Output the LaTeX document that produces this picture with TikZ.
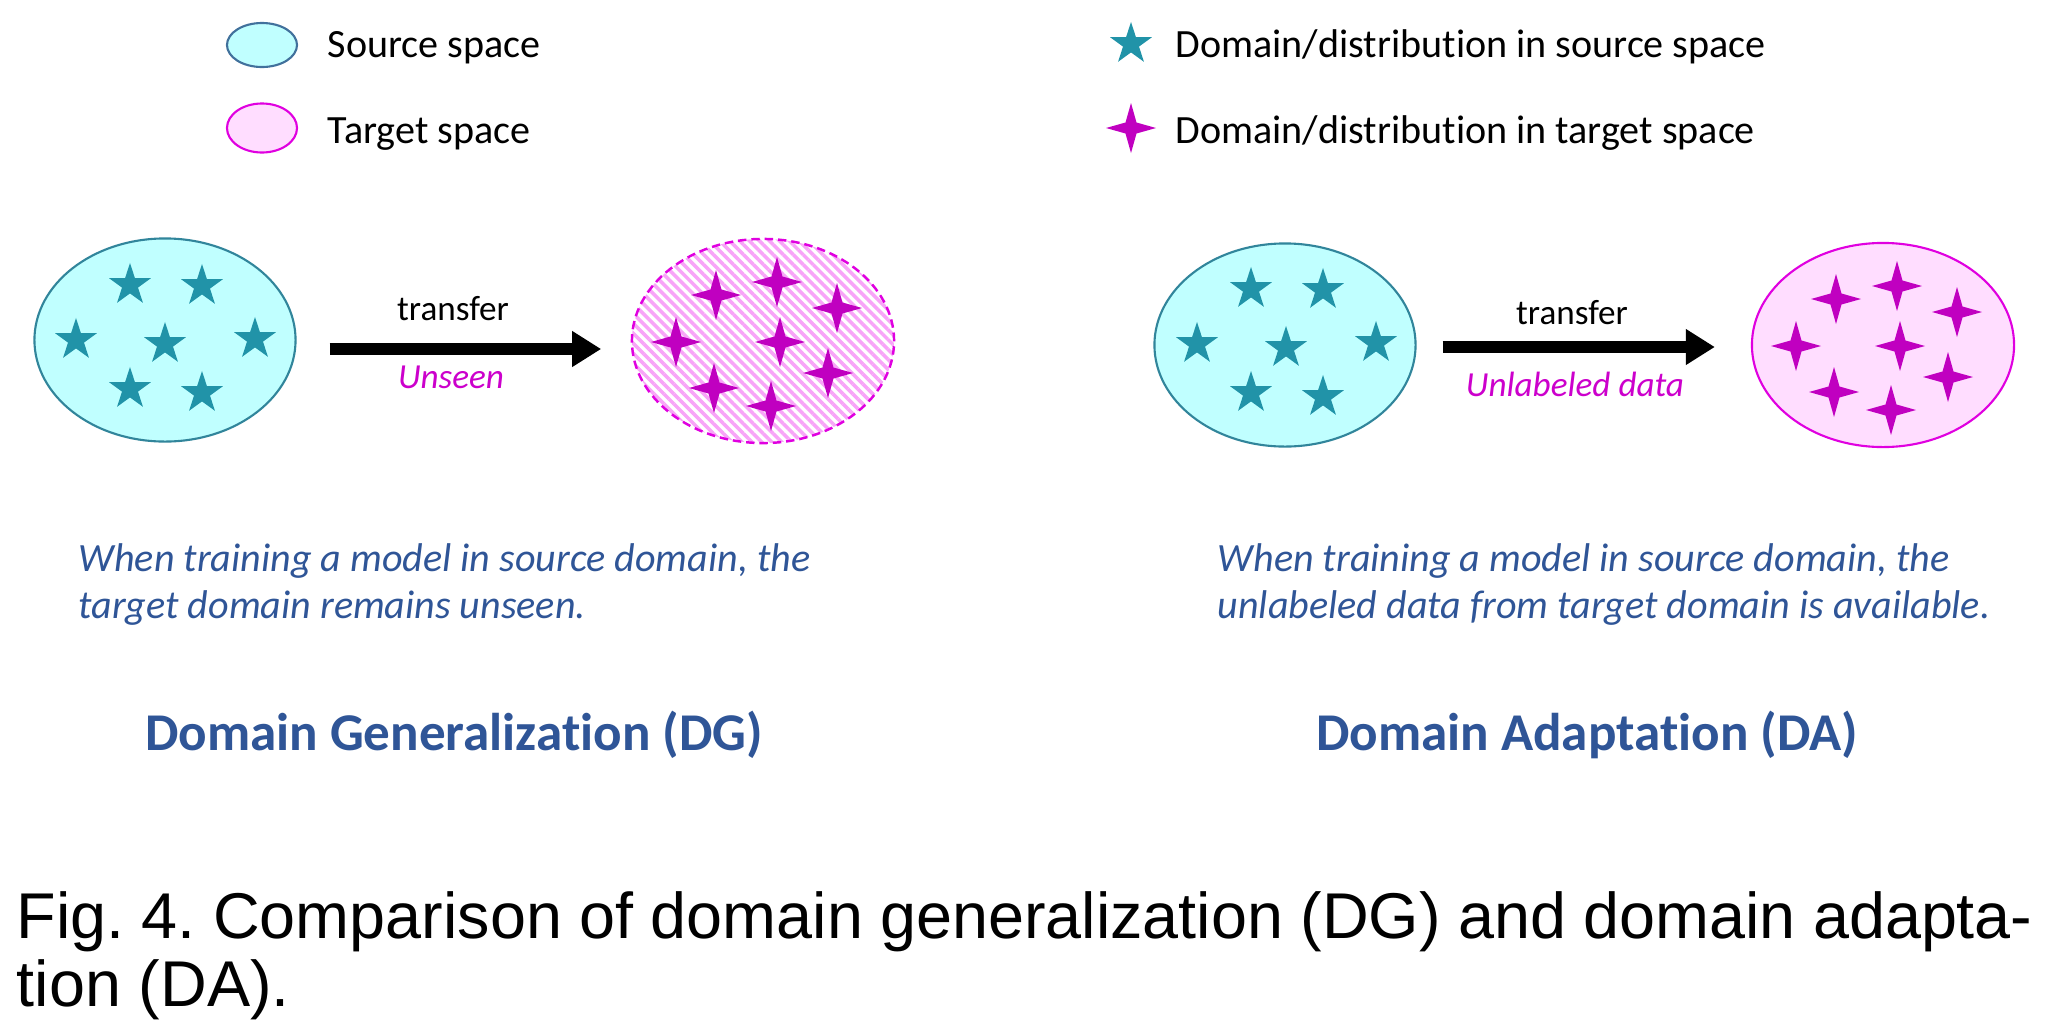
\documentclass[tikz,border=0pt]{standalone}
\usepackage{fontspec}
\setmainfont{Carlito}[Ligatures=NoCommon]
\newfontfamily\capfont{Liberation Sans}
\usetikzlibrary{shapes.geometric,arrows.meta,patterns.meta}
\frenchspacing

\definecolor{srcfill}{RGB}{192,255,255}
\definecolor{srcline}{RGB}{49,133,155}
\definecolor{legline}{RGB}{65,113,156}
\definecolor{tealstar}{RGB}{33,147,168}
\definecolor{tgtfill}{RGB}{255,221,255}
\definecolor{tgtline}{RGB}{224,0,224}
\definecolor{magstar}{RGB}{192,0,192}
\definecolor{maglabel}{RGB}{204,0,204}
\definecolor{hatchpink}{RGB}{248,164,248}
\definecolor{textblue}{RGB}{47,85,151}

\tikzset{
  srcspace/.style={ellipse, draw=srcline, line width=0.6pt, fill=srcfill,
    minimum width=2.61cm, minimum height=2.03cm, inner sep=0pt},
  tgtspace/.style={ellipse, draw=tgtline, line width=0.6pt, fill=tgtfill,
    minimum width=2.62cm, minimum height=2.04cm, inner sep=0pt},
  unseenspace/.style={ellipse, draw=tgtline, line width=0.7pt,
    dash pattern=on 2.4pt off 1.4pt,
    pattern={Lines[angle=-45,distance=2pt,line width=1pt]}, pattern color=hatchpink,
    minimum width=2.62cm, minimum height=2.04cm, inner sep=0pt},
  srcstar/.style={star, star points=5, star point ratio=2.618, fill=tealstar,
    draw=none, minimum size=0.44cm, inner sep=0pt, outer sep=0pt},
  sparkle/.pic={\fill[magstar] (0,25)--(5.5,5.5)--(25,0)--(5.5,-5.5)--(0,-25)
    --(-5.5,-5.5)--(-25,0)--(-5.5,5.5)--cycle;},
  bigarrow/.style={line width=0.115cm, -{Triangle[length=0.29cm,width=0.34cm]}},
  legtext/.style={anchor=base west, inner sep=0pt, font=\fontsize{11.4pt}{13pt}\selectfont},
  arrowtext/.style={anchor=base, inner sep=0pt, font=\fontsize{10pt}{12pt}\selectfont},
  arrownote/.style={arrowtext, text=maglabel, font=\fontsize{10pt}{12pt}\selectfont\itshape},
  desctext/.style={anchor=base west, inner sep=0pt, text=textblue,
    font=\fontsize{11.4pt}{13.4pt}\selectfont\itshape},
  titletext/.style={anchor=base, inner sep=0pt, text=textblue,
    font=\fontsize{15.1pt}{18pt}\selectfont\bfseries},
  captext/.style={anchor=base west, inner sep=0pt,
    font=\capfont\fontsize{18.4pt}{22pt}\selectfont},
}

\begin{document}
\begin{tikzpicture}[x=0.01cm, y=-0.01cm]
  % canvas
  \fill[white] (0,0) rectangle (2048,1033);
  \useasboundingbox (0,0) rectangle (2048,1033);

  % legend
  \node[ellipse, draw=legline, line width=0.6pt, fill=srcfill, minimum width=0.7cm,
    minimum height=0.44cm, inner sep=0pt] (legsrc) at (262,45) {};
  \node[ellipse, draw=tgtline, line width=0.6pt, fill=tgtfill, minimum width=0.7cm,
    minimum height=0.49cm, inner sep=0pt] (legtgt) at (262,128) {};
  \node[legtext] (legsrctext) at (327,57) {Source space};
  \node[legtext] (legtgttext) at (327,143) {Target space};
  \node[srcstar] (legstar) at (1131,44) {};
  \pic at (1131,128) {sparkle};
  \node[legtext] (legstartext) at (1175,57) {Domain/distribution in source space};
  \node[legtext] (legsparktext) at (1175,143) {Domain/distribution in target space};

  % domain generalization
  \node[srcspace] (dgsrc) at (165,340) {};
  \node[unseenspace] (dgtgt) at (763,341) {};
  \foreach \x/\y [count=\i] in {130/285,202/286,76/340,165/344,255/339,130/389,202/393}
    \node[srcstar] (dgs\i) at (\x,\y) {};
  \foreach \x/\y in {716/295,777/282,837/308,676/342,780/342,828/373,714/388,771/406}
    \pic at (\x,\y) {sparkle};
  \draw[bigarrow, shorten <=0.33cm, shorten >=0.29cm] (dgsrc.east |- 0,349) -- (dgtgt.west |- 0,349);
  \node[arrowtext] (dgtransfer) at (453,320) {transfer};
  \node[arrownote] (dgunseen) at (451,388) {Unseen};

  % domain adaptation
  \node[srcspace] (dasrc) at (1285,345) {};
  \node[tgtspace] (datgt) at (1883,345) {};
  \foreach \x/\y [count=\i] in {1251/289,1323/290,1197/344,1286/348,1376/343,1251/393,1323/397}
    \node[srcstar] (das\i) at (\x,\y) {};
  \foreach \x/\y in {1836/299,1897/286,1957/312,1796/346,1900/346,1948/377,1834/392,1891/410}
    \pic at (\x,\y) {sparkle};
  \draw[bigarrow, shorten <=0.26cm, shorten >=0.36cm] (dasrc.east |- 0,347) -- (datgt.west |- 0,347);
  \node[arrowtext] (datransfer) at (1572,324) {transfer};
  \node[arrownote] (daunlabeled) at (1575,396) {Unlabeled data};

  % descriptions
  \node[desctext] (dgdesc1) at (78,571) {When training a model in source domain, the};
  \node[desctext] (dgdesc2) at (78,618) {target domain remains unseen.};
  \node[desctext] (dadesc1) at (1217,571) {When training a model in source domain, the};
  \node[desctext] (dadesc2) at (1217,618) {unlabeled data from target domain is available.};

  % titles
  \node[titletext] (dgtitle) at (454,750) {Domain Generalization (DG)};
  \node[titletext] (datitle) at (1587,750) {Domain Adaptation (DA)};

  % caption
  \node[captext] (cap1) at (16,938)
    {\makebox[20.15cm][s]{Fig. 4. Comparison of domain generalization (DG) and domain adapta-}};
  \node[captext] (cap2) at (16,1006) {tion (DA).};
\end{tikzpicture}
\end{document}
